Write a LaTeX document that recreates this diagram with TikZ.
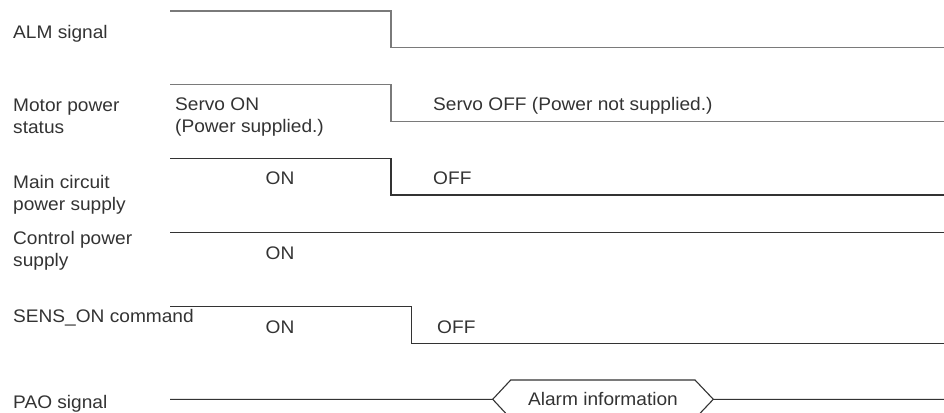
\documentclass[tikz,border=0pt]{standalone}
\usepackage{fontspec}
\setmainfont[FakeStretch=1.05]{Liberation Sans}
\definecolor{txtgray}{HTML}{333333}
\definecolor{softgray}{HTML}{7A7A7A}
\definecolor{darkgray}{HTML}{333333}
\tikzset{
  sig/.style={anchor=base west, inner sep=0pt, align=left, text=txtgray, font=\fontsize{18.2}{22}\selectfont},
  lvl/.style={anchor=base, inner sep=0pt, align=left, text=txtgray, font=\fontsize{18.2}{22}\selectfont},
  wave/.style={line width=1.1pt, draw=darkgray},
  softwave/.style={line width=1.5pt, draw=softgray}
}

\begin{document}
\begin{tikzpicture}[x=1pt, y=-1pt]
	\useasboundingbox (0,0) rectangle (944,412);
	% signal names (base = last line)
	\node[sig] (alm) at (13,38) {ALM signal};
	\node[sig] (motor) at (13,133) {Motor power\\status};
	\node[sig] (main) at (13,210) {Main circuit\\power supply};
	\node[sig] (ctrl) at (13,266) {Control power\\supply};
	\node[sig] (sens) at (13,322.7) {SENS\_ON command};
	\node[sig] (pao) at (13,408.3) {PAO signal};
	% waveforms
	\draw[softwave] (170,11) -| (391,47.7) -- (944,47.7);
	\draw[softwave] (170,84.3) -| (391,121.7) -- (944,121.7);
	\draw[wave] (170,158.7) -| (391,195) -- (944,195);
	\draw[wave] (170,232.3) -- (944,232.3);
	\draw[wave] (170,306.7) -| (411.7,343.3) -- (944,343.3);
	\draw[wave] (170,399.3) -- (492.7,399.3) -- (510.7,380) -- (695,380) -- (713.3,399.3) -- (944,399.3);
	\draw[wave] (492.7,399.3) -- (510.7,418.6) -- (695,418.6) -- (713.3,399.3);
	% states
	\node[sig] (srvon) at (175,132.7) {Servo ON\\(Power supplied.)};
	\node[sig] (srvoff) at (433,110.7) {Servo OFF (Power not supplied.)};
	\node[lvl] (mainon) at (280,184) {ON};
	\node[sig] (mainoff) at (433,184) {OFF};
	\node[lvl] (ctrlon) at (280,259) {ON};
	\node[lvl] (senson) at (280,333.3) {ON};
	\node[sig] (sensoff) at (437,333.3) {OFF};
	\node[lvl] (alarm) at (603,405) {Alarm information};
\end{tikzpicture}
\end{document}
